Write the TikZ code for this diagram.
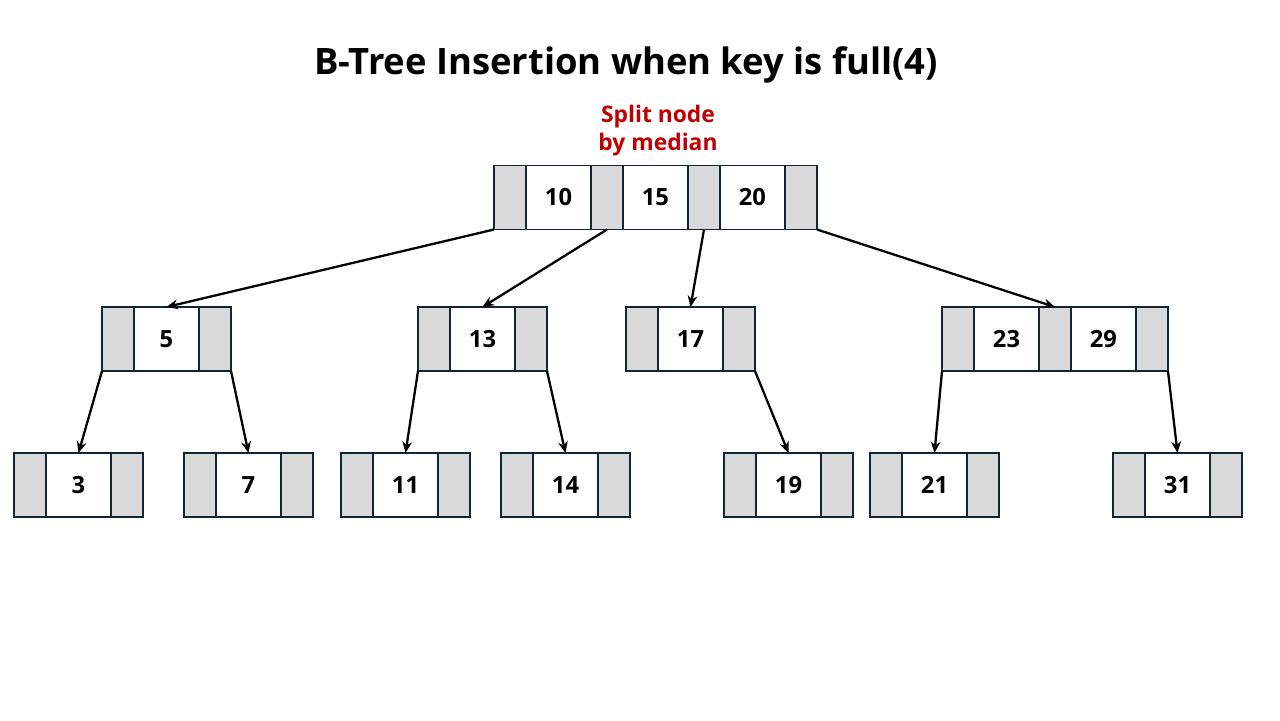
\documentclass[tikz,border=0pt]{standalone}
\usepackage{fontspec}
\setsansfont{Open Sans}
\usepackage{tikz}
\usetikzlibrary{arrows.meta,positioning}

\definecolor{cellline}{RGB}{16,38,50}
\definecolor{cellgrey}{RGB}{217,217,217}
\definecolor{notered}{RGB}{192,0,0}

\begin{document}
\begin{tikzpicture}[
  x=0.02cm, y=-0.02cm,
  ptr/.style={draw=cellline, fill=cellgrey, line width=1.1pt, outer sep=0pt,
    minimum width=0.64cm, minimum height=1.28cm, inner sep=0pt},
  keycell/.style={draw=cellline, fill=white, line width=1.1pt, outer sep=0pt,
    minimum width=1.3cm, minimum height=1.28cm, inner sep=0pt,
    font=\sffamily\bfseries\fontsize{13.5}{16}\selectfont},
  link/.style={line width=1.3pt, -{Stealth[length=6.5pt,width=5.5pt]}}
]
\useasboundingbox (0,0) rectangle (1280,720);

% Title
\node[font=\sffamily\bfseries\fontsize{20.7}{26}\selectfont] (title) at (626,65)
  {B-Tree Insertion when key is full(4)};
\node[font=\sffamily\bfseries\fontsize{13}{16}\selectfont, text=notered, align=center] (note) at (658,131)
  {Split node\\by median};

% Root
\node[ptr] (ra) at (510,197.5) {};
\node[keycell, right=0pt of ra] (k10) {10};
\node[ptr, right=0pt of k10] (rb) {};
\node[keycell, right=0pt of rb] (k15) {15};
\node[ptr, right=0pt of k15] (rc) {};
\node[keycell, right=0pt of rc] (k20) {20};
\node[ptr, right=0pt of k20] (rd) {};

% Second level
\node[ptr] (p5a) at (118,339) {};
\node[keycell, right=0pt of p5a] (k5) {5};
\node[ptr, right=0pt of k5] (p5b) {};

\node[ptr] (p13a) at (434,339) {};
\node[keycell, right=0pt of p13a] (k13) {13};
\node[ptr, right=0pt of k13] (p13b) {};

\node[ptr] (p17a) at (642,339) {};
\node[keycell, right=0pt of p17a] (k17) {17};
\node[ptr, right=0pt of k17] (p17b) {};

\node[ptr] (p23a) at (958,339) {};
\node[keycell, right=0pt of p23a] (k23) {23};
\node[ptr, right=0pt of k23] (p23b) {};
\node[keycell, right=0pt of p23b] (k29) {29};
\node[ptr, right=0pt of k29] (p29b) {};

% Leaves
\node[ptr] (p3a) at (30,485) {};
\node[keycell, right=0pt of p3a] (k3) {3};
\node[ptr, right=0pt of k3] (p3b) {};

\node[ptr] (p7a) at (200,485) {};
\node[keycell, right=0pt of p7a] (k7) {7};
\node[ptr, right=0pt of k7] (p7b) {};

\node[ptr] (p11a) at (357,485) {};
\node[keycell, right=0pt of p11a] (k11) {11};
\node[ptr, right=0pt of k11] (p11b) {};

\node[ptr] (p14a) at (517,485) {};
\node[keycell, right=0pt of p14a] (k14) {14};
\node[ptr, right=0pt of k14] (p14b) {};

\node[ptr] (p19a) at (740,485) {};
\node[keycell, right=0pt of p19a] (k19) {19};
\node[ptr, right=0pt of k19] (p19b) {};

\node[ptr] (p21a) at (886,485) {};
\node[keycell, right=0pt of p21a] (k21) {21};
\node[ptr, right=0pt of k21] (p21b) {};

\node[ptr] (p31a) at (1129,485) {};
\node[keycell, right=0pt of p31a] (k31) {31};
\node[ptr, right=0pt of k31] (p31b) {};

% Links
\draw[link] (ra.south west) -- (k5.north);
\draw[link] (rb.south) -- (k13.north);
\draw[link] (rc.south) -- (k17.north);
\draw[link] (rd.south east) -- (p23b.north);

\draw[link] (p5a.south west) -- (k3.north);
\draw[link] (p5b.south east) -- (k7.north);
\draw[link] (p13a.south west) -- (k11.north);
\draw[link] (p13b.south east) -- (k14.north);
\draw[link] (p17b.south east) -- (k19.north);
\draw[link] (p23a.south west) -- (k21.north);
\draw[link] (p29b.south east) -- (k31.north);

\end{tikzpicture}
\end{document}
